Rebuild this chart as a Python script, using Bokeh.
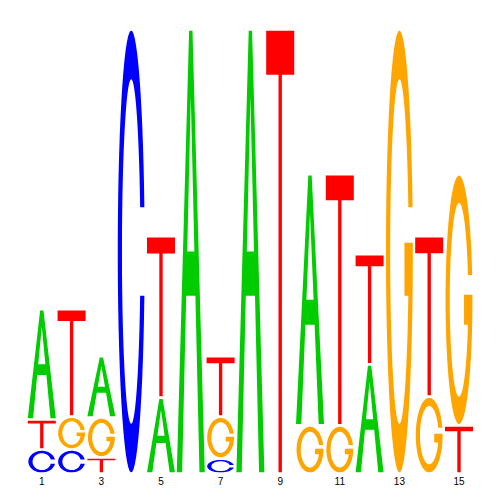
import numpy as np
from bokeh.plotting import figure
from bokeh.models import Range1d, FixedTicker
from bokeh.embed import file_html
from bokeh.resources import INLINE

# ---- data (information content in bits per letter, per position) ----
positions = list(range(1, 16))
bits_A = [0.493, 0.0, 0.271, 0.0, 0.339, 2.0, 0.0, 2.0, 0.0, 1.131, 0.0, 0.489, 0.0, 0.0, 0.0]
bits_C = [0.104, 0.104, 0.0, 2.0, 0.0, 0.0, 0.063, 0.0, 0.0, 0.0, 0.0, 0.0, 0.0, 0.0, 0.0]
bits_G = [0.0, 0.149, 0.181, 0.0, 0.0, 0.0, 0.190, 0.0, 0.0, 0.213, 0.213, 0.0, 2.0, 0.344, 1.131]
bits_T = [0.136, 0.480, 0.068, 0.0, 0.724, 0.0, 0.267, 0.0, 2.0, 0.0, 1.131, 0.493, 0.0, 0.719, 0.213]
tick_positions = [1, 3, 5, 7, 9, 11, 13, 15]
letters = ["A", "C", "G", "T"]
letter_colors = {"A": "#00CC00", "C": "#0000FF", "G": "#FFA500", "T": "#FF0000"}

# ---- letter outlines in a unit box (glyph geometry) ----
def arc(cx, cy, rx, ry, a0, a1, n=60):
    t = np.radians(np.linspace(a0, a1, n))
    return list(cx + rx * np.cos(t)), list(cy + ry * np.sin(t))

ORX, ORY, IRX, IRY = 0.48, 0.5, 0.33, 0.39
def cut_angle(r, yc):
    return np.degrees(np.arcsin((yc - 0.5) / r))

def shape_A():
    outer = [(0.0, 0.0), (0.19, 0.0), (0.336, 0.40), (0.664, 0.40), (0.81, 0.0),
             (1.0, 0.0), (0.56, 1.0), (0.44, 1.0)]
    hole = [(0.372, 0.50), (0.628, 0.50), (0.5, 0.85)]
    return [outer, hole]

def shape_T():
    return [[(0.0, 1.0), (1.0, 1.0), (1.0, 0.9), (0.56, 0.9), (0.56, 0.0),
             (0.44, 0.0), (0.44, 0.9), (0.0, 0.9)]]

def shape_C():
    ao = cut_angle(ORY, 0.6)
    ai = cut_angle(IRY, 0.6)
    ox, oy = arc(0.5, 0.5, ORX, ORY, ao, 360 - ao)
    ix, iy = arc(0.5, 0.5, IRX, IRY, 360 - ai, ai)
    return [list(zip(ox + ix, oy + iy))]

def shape_G():
    ao = cut_angle(ORY, 0.6)
    ai = cut_angle(IRY, 0.6)
    ab = cut_angle(ORY, 0.52)
    al = cut_angle(IRY, 0.40)
    ox, oy = arc(0.5, 0.5, ORX, ORY, ao, 360 + ab)
    ix, iy = arc(0.5, 0.5, IRX, IRY, 360 + al, ai)
    bx_in = 0.5 + IRX * np.cos(np.radians(al))
    xs = ox + [0.68, 0.68, bx_in] + ix
    ys = oy + [0.52, 0.40, 0.40] + iy
    return [list(zip(xs, ys))]

shapes = {"A": shape_A(), "C": shape_C(), "G": shape_G(), "T": shape_T()}

# ---- build stacked letters ----
BOX_W = 0.94
GAP = 0.006  # small vertical padding between stacked glyphs
table = {"A": bits_A, "C": bits_C, "G": bits_G, "T": bits_T}
xs_all, ys_all, cols = [], [], []
for i, pos in enumerate(positions):
    stack = sorted([(table[l][i], l) for l in letters if table[l][i] > 0])
    y0 = 0.0
    for k, (h, l) in enumerate(stack):
        pb = GAP if k > 0 else 0.0
        pt = GAP if k < len(stack) - 1 else 0.0
        gb, gh = y0 + pb, h - pb - pt
        rings_x, rings_y = [], []
        for ring in shapes[l]:
            rings_x.append([pos - BOX_W / 2 + ux * BOX_W for ux, uy in ring])
            rings_y.append([gb + uy * gh for ux, uy in ring])
        xs_all.append([rings_x])
        ys_all.append([rings_y])
        cols.append(letter_colors[l])
        y0 += h

# ---- figure ----
x0 = 1 - 15.3 / 29.8
p = figure(output_backend="svg", toolbar_location=None,
           frame_width=447, frame_height=442,
           x_range=Range1d(x0, x0 + 447 / 29.8), y_range=Range1d(0, 2),
           min_border_left=26, min_border_right=8, min_border_top=30,
           min_border_bottom=16, y_axis_location=None)
p.multi_polygons(xs=xs_all, ys=ys_all, fill_color=cols, line_color=None)

p.xgrid.visible = False
p.ygrid.visible = False
p.outline_line_color = None
p.xaxis.ticker = FixedTicker(ticks=tick_positions)
p.xaxis.axis_line_color = None
p.xaxis.major_tick_line_color = None
p.xaxis.minor_tick_line_color = None
p.xaxis.major_tick_out = 0
p.xaxis.major_tick_in = 0
p.xaxis.major_label_standoff = 4
p.xaxis.major_label_text_font = "Liberation Sans"
p.xaxis.major_label_text_font_size = "10px"
p.xaxis.major_label_text_color = "black"

open("out.html", "w").write(file_html(p, INLINE))
